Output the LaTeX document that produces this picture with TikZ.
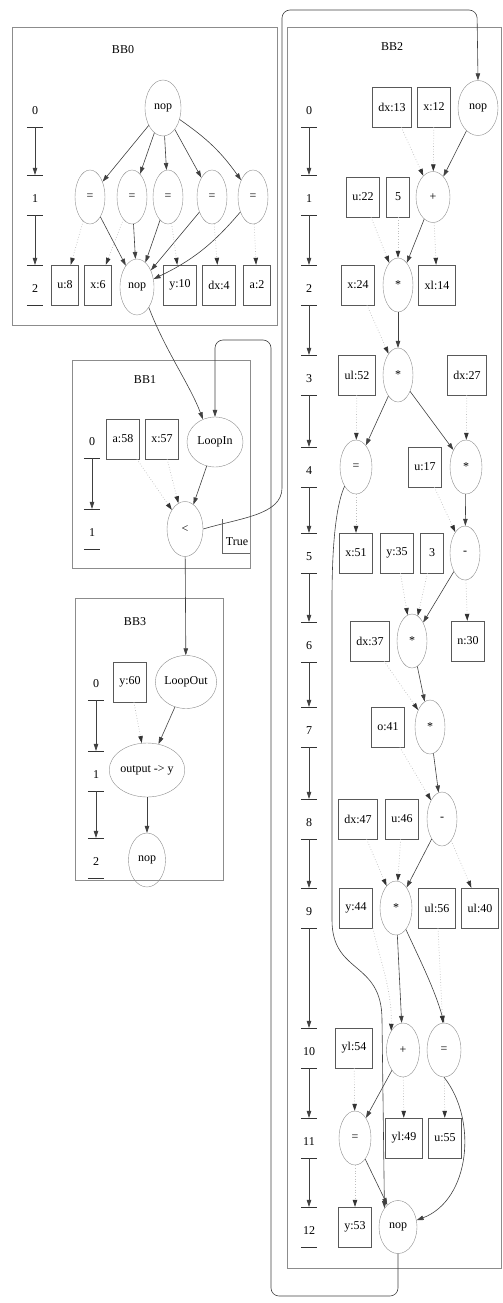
\documentclass[tikz,border=0pt]{standalone}
\usepackage{fontspec}
\setmainfont{Liberation Serif}
\usetikzlibrary{shapes.geometric,arrows.meta}
\begin{document}
\begin{tikzpicture}[x=1pt,y=-1pt,
  font=\fontsize{12}{14}\selectfont,
  op/.style={ellipse,draw=black!45,minimum width=30,minimum height=54,inner sep=0pt},
  var/.style={rectangle,draw=black!65,minimum height=40,minimum width=23,inner xsep=6pt,inner ysep=0pt},
  lvl/.style={minimum height=40,minimum width=16,inner sep=0pt,text height=15pt,text depth=0pt},
  cluster/.style={draw=black!45,line width=0.8pt},
  e/.style={draw=black!75,line width=0.6pt,-{Triangle[length=7pt,width=4.5pt]}},
  d/.style={draw=black!25,dotted,line width=0.7pt,-{Triangle[length=7pt,width=4.5pt,color=black!80]}},
  bar/.style={draw=black!80,line width=0.6pt}
]
\useasboundingbox (0,0) rectangle (503,1303);
% clusters
\draw[cluster] (12,27) rectangle (277,325);
\draw[cluster] (72,360) rectangle (250,568);
\draw[cluster] (75,598) rectangle (223,880);
\draw[cluster] (287,27) rectangle (501,1268);
\node (t0) at (123,50) {BB0};
\node (t1) at (145,380) {BB1};
\node (t3) at (135,622) {BB3};
\node (t2) at (392,47) {BB2};

% ---------- BB0 ----------
\node[lvl] (a0) at (35,107) {0};
\node[lvl] (a1) at (35,195) {1};
\node[lvl] (a2) at (35,285) {2};
\foreach \nn in {a0,a1,a2} \draw[bar] (\nn.south west) -- (\nn.south east);
\foreach \nn in {a1,a2} \draw[bar] (\nn.north west) -- (\nn.north east);
\draw[e] (a0.south) -- (a1.north);
\draw[e] (a1.south) -- (a2.north);

\node[op,minimum width=36,minimum height=56] (n0) at (163,108) {nop};
\node[op] (e1) at (90,197) {=};
\node[op] (e2) at (132,197) {=};
\node[op] (e3) at (168,197) {=};
\node[op] (e4) at (212,197) {=};
\node[op] (e5) at (253,197) {=};
\node[var] (u8) at (65,285) {u:8};
\node[var] (x6) at (98,285) {x:6};
\node[op,minimum width=34,minimum height=56] (n1) at (137,287) {nop};
\node[var] (y10) at (180,285) {y:10};
\node[var] (dx4) at (219,285) {dx:4};
\node[var] (a2n) at (257,285) {a:2};
\foreach \nn in {e1,e2,e3,e4} \draw[e] (n0) -- (\nn);
\draw[e] (n0) to[bend left=10] (e5);
\foreach \nn in {e1,e2,e3,e4} \draw[e] (\nn) -- (n1);
\draw[e] (e5) to[bend left=12] (n1);
\draw[d] (e1) -- (u8);
\draw[d] (e2) -- (x6);
\draw[d] (e3) -- (y10);
\draw[d] (e4) -- (dx4);
\draw[d] (e5) -- (a2n);

% ---------- BB1 ----------
\node[lvl] (b0) at (92,438) {0};
\node[lvl] (b1) at (92,529) {1};
\foreach \nn in {b0,b1} \draw[bar] (\nn.south west) -- (\nn.south east);
\draw[bar] (b1.north west) -- (b1.north east);
\draw[e] (b0.south) -- (b1.north);
\node[var] (a58) at (123,439) {a:58};
\node[var] (x57) at (162,439) {x:57};
\node[op,minimum width=56,minimum height=50] (lin) at (215,442) {LoopIn};
\node[op,minimum width=36,minimum height=55] (lt) at (185,529) {<};
\draw[d] (a58) -- (lt);
\draw[d] (x57) -- (lt);
\draw[e] (lin) -- (lt);
\draw[e] (n1.300) .. controls (165,350) and (190,385) .. (lin.118);

% ---------- BB3 ----------
\node[lvl] (d0) at (96,680) {0};
\node[lvl] (d1) at (96,771) {1};
\node[lvl] (d2) at (96,858) {2};
\foreach \nn in {d0,d1,d2} \draw[bar] (\nn.south west) -- (\nn.south east);
\foreach \nn in {d1,d2} \draw[bar] (\nn.north west) -- (\nn.north east);
\draw[e] (d0.south) -- (d1.north);
\draw[e] (d1.south) -- (d2.north);
\node[var] (y60) at (130,682) {y:60};
\node[op,minimum width=58,minimum height=53] (lout) at (186,682) {LoopOut};
\node[op,minimum width=73,minimum height=54] (outy) at (147,770) {output -> y};
\node[op,minimum width=37,minimum height=54] (n3) at (147,860) {nop};
\draw[e] (lt) -- (lout);
\draw[e] (lout) -- (outy);
\draw[d] (y60) -- (outy);
\draw[e] (outy) -- (n3);

% ---------- BB2 ----------
\foreach \i/\yy in {0/107,1/195,2/285,3/375,4/467,5/553,6/642,7/727,8/819,9/908,10/1048,11/1138,12/1227}
  \node[lvl] (c\i) at (309,\yy) {\i};
\foreach \i in {0,...,12} \draw[bar] (c\i.south west) -- (c\i.south east);
\foreach \i in {1,...,12} \draw[bar] (c\i.north west) -- (c\i.north east);
\foreach \i [evaluate=\i as \j using int(\i+1)] in {0,...,11} \draw[e] (c\i.south) -- (c\j.north);

\node[var] (dx13) at (392,107) {dx:13};
\node[var] (x12) at (434,107) {x:12};
\node[op,minimum width=40,minimum height=55] (n2) at (478,108) {nop};
\node[var] (u22) at (363,197) {u:22};
\node[var] (c5) at (398,197) {5};
\node[op,minimum width=34,minimum height=51] (pl1) at (433,197) {+};
\node[var] (x24) at (358,285) {x:24};
\node[op] (m2) at (398,285) {*};
\node[var] (xl14) at (437,285) {xl:14};
\node[var] (ul52) at (357,375) {ul:52};
\node[op] (m3) at (398,375) {*};
\node[var] (dx27) at (467,375) {dx:27};
\node[op,minimum width=32] (eq4) at (356,467) {=};
\node[var] (u17) at (425,467) {u:17};
\node[op,minimum width=32] (m4) at (466,467) {*};
\node[var] (x51) at (356,553) {x:51};
\node[var] (y35) at (397,553) {y:35};
\node[var] (c3) at (432,553) {3};
\node[op] (s5) at (465,553) {-};
\node[var] (dx37) at (370,641) {dx:37};
\node[op] (m6) at (412,641) {*};
\node[var] (n30) at (468,641) {n:30};
\node[var] (o41) at (388,727) {o:41};
\node[op] (m7) at (430,727) {*};
\node[var] (dx47) at (358,819) {dx:47};
\node[var] (u46) at (402,819) {u:46};
\node[op] (s8) at (442,819) {-};
\node[var] (y44) at (356,908) {y:44};
\node[op,minimum width=32] (m9) at (396,908) {*};
\node[var] (ul56) at (437,908) {ul:56};
\node[var] (ul40) at (480,908) {ul:40};
\node[var] (yl54) at (354,1048) {yl:54};
\node[op,minimum width=33] (p10) at (403,1050) {+};
\node[op,minimum width=34] (eq10) at (444,1050) {=};
\node[op,minimum width=32] (eq11) at (355,1138) {=};
\node[var] (yl49) at (404,1138) {yl:49};
\node[var] (u55) at (445,1138) {u:55};
\node[var] (y53) at (355,1227) {y:53};
\node[op,minimum width=38,minimum height=53] (n12) at (398,1227) {nop};

\draw[e] (n2) -- (pl1);
\draw[d] (dx13) -- (pl1);
\draw[d] (x12) -- (pl1);
\draw[d] (u22) -- (m2);
\draw[d] (c5) -- (m2);
\draw[e] (pl1) -- (m2);
\draw[d] (pl1) -- (xl14);
\draw[e] (m2) -- (m3);
\draw[d] (x24) -- (m3);
\draw[e] (m3) -- (eq4);
\draw[e] (m3) -- (m4);
\draw[d] (ul52) -- (eq4);
\draw[d] (dx27) -- (m4);
\draw[d] (eq4) -- (x51);
\draw[e] (m4) -- (s5);
\draw[d] (u17) -- (s5);
\draw[e] (s5) -- (m6);
\draw[d] (y35) -- (m6);
\draw[d] (c3) -- (m6);
\draw[d] (s5) -- (n30);
\draw[e] (m6) -- (m7);
\draw[d] (dx37) -- (m7);
\draw[e] (m7) -- (s8);
\draw[d] (o41) -- (s8);
\draw[e] (s8) -- (m9);
\draw[d] (dx47) -- (m9);
\draw[d] (u46) -- (m9);
\draw[d] (s8) -- (ul40);
\draw[e] (m9) -- (p10);
\draw[d] (y44.south east) .. controls (380,960) and (392,990) .. (p10.north west);
\draw[e] (m9) .. controls (420,960) and (435,990) .. (eq10.north);
\draw[d] (ul56) -- (eq10);
\draw[e] (p10) -- (eq11);
\draw[d] (yl54) -- (eq11);
\draw[d] (p10) -- (yl49);
\draw[d] (eq10) -- (u55);
\draw[d] (eq11) -- (y53);
\draw[e] (eq11) -- (n12);
\draw[e] (eq10.south) .. controls (478,1120) and (470,1200) .. (n12.20);
\draw[e] (eq4.south west) .. controls (334,510) and (332,560) .. (332,600)
  -- (332,920) .. controls (332,975) and (382,960) .. (382,1020) -- (n12.north west);

% inter-block edges
\draw[e,rounded corners=8] (n12.south) -- (398,1296) -- (271,1296) -- (271,340) -- (215,340) -- (lin.north);
\draw[e,rounded corners=8] (lt.east) .. controls (240,518) and (282,515) .. (282,480) -- (282,10) -- (477,10) -- (n2.north);
\node[inner sep=1pt] (tr) at (237,542) {True};
\draw[draw=black!60] (222,519) -- (222,553) -- (250,553);
\end{tikzpicture}
\end{document}
